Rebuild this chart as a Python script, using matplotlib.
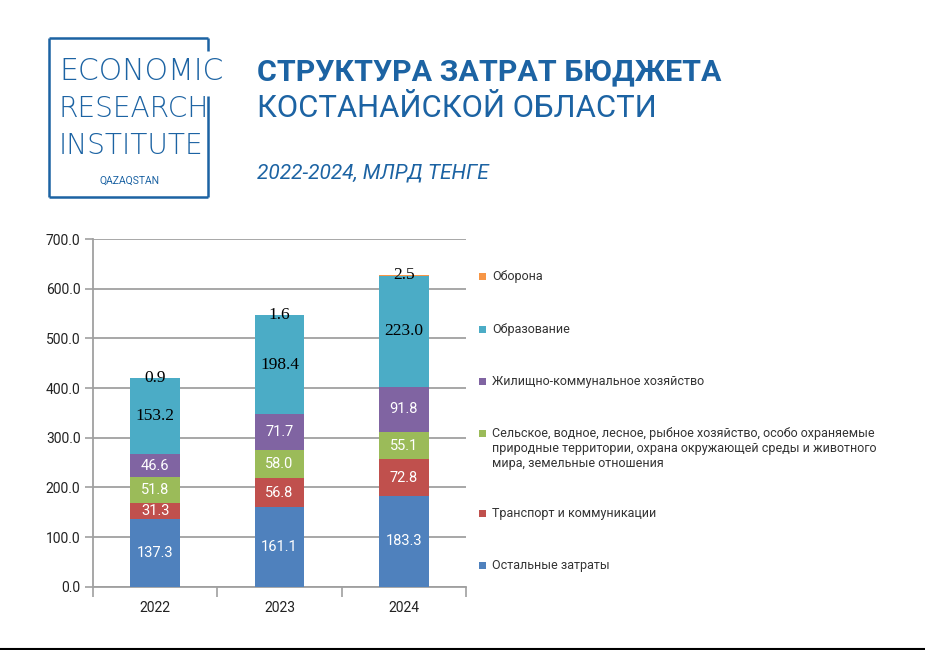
import matplotlib
matplotlib.use("Agg")
import matplotlib.pyplot as plt
from matplotlib.patches import Rectangle
from matplotlib.lines import Line2D

# ---- data ----
years = ["2022", "2023", "2024"]
other = [137.3, 161.1, 183.3]
transport = [31.3, 56.8, 72.8]
agri = [51.8, 58.0, 55.1]
housing = [46.6, 71.7, 91.8]
education = [153.2, 198.4, 223.0]
defense = [0.9, 1.6, 2.5]

series_names = [
    "Остальные затраты",
    "Транспорт и коммуникации",
    "Сельское, водное, лесное, рыбное хозяйство, особо охраняемые\nприродные территории, охрана окружающей среды и животного\nмира, земельные отношения",
    "Жилищно-коммунальное хозяйство",
    "Образование",
    "Оборона",
]
series_values = [other, transport, agri, housing, education, defense]
series_colors = ["#4F81BD", "#C0504D", "#9BBB59", "#8064A2", "#4BACC6", "#F79646"]
label_dark = [False, False, False, False, True, True]
yticks = [0, 100, 200, 300, 400, 500, 600, 700]

W, H = 925, 650
fig = plt.figure(figsize=(W / 100, H / 100), dpi=100)
fig.patch.set_facecolor("white")

def fx(px):
    return px / W

def fy(py):
    return 1 - py / H

# ---- axes ----
ax_l, ax_r, ax_t, ax_b = 93, 466, 239, 586.7
ax = fig.add_axes([fx(ax_l), fy(ax_b), (ax_r - ax_l) / W, (ax_b - ax_t) / H])
ax.set_facecolor("white")

x = list(range(len(years)))
bottoms = [0.0] * len(years)
for vals, col, dark in zip(series_values, series_colors, label_dark):
    ax.bar(x, vals, width=0.4, bottom=bottoms, color=col, zorder=3, linewidth=0)
    for i, v in enumerate(vals):
        yc = bottoms[i] + v / 2
        if dark:
            ax.text(i, yc, f"{v:.1f}", ha="center", va="center", fontsize=12.5,
                    family="Liberation Serif", color="black", zorder=5)
        else:
            ax.text(i, yc, f"{v:.1f}", ha="center", va="center", fontsize=10.5,
                    family="Roboto", color="white", zorder=5)
    bottoms = [b + v for b, v in zip(bottoms, vals)]

ax.set_xlim(-0.5, len(years) - 0.5)
ax.set_ylim(0, 700)
ax.set_yticks(yticks)
ax.set_yticklabels([f"{t:.1f}" for t in yticks], family="Roboto", fontsize=10, color="#222222")
ax.set_xticks(x)
ax.set_xticklabels(years, family="Roboto", fontsize=10, color="#222222")
ax.set_xticks([-0.5, 0.5, 1.5, 2.5], minor=True)
ax.tick_params(axis="x", which="major", length=0, pad=10)
ax.tick_params(axis="x", which="minor", length=7, width=1.2, color="#A0A0A0", direction="out")
ax.tick_params(axis="y", length=6, width=1.2, color="#A0A0A0", pad=3)
ax.yaxis.grid(True, color="#A0A0A0", linewidth=1.3, zorder=0)
ax.set_axisbelow(True)
for s in ["top", "right"]:
    ax.spines[s].set_visible(False)
for s in ["left", "bottom"]:
    ax.spines[s].set_color("#A0A0A0")
    ax.spines[s].set_linewidth(1.3)

# ---- legend (manual, reversed order) ----
leg_y = [276.7, 329, 381, 433.7, 513, 565.7]
for name, col, ly in zip(series_names[::-1], series_colors[::-1], leg_y):
    fig.add_artist(Rectangle((fx(479), fy(ly + 3.5)), 7 / W, 7 / H, transform=fig.transFigure,
                             facecolor=col, edgecolor="none"))
    if "\n" in name:
        fig.text(fx(492), fy(ly - 7), name, ha="left", va="top",
                 fontsize=9.0, family="Roboto", color="#333333", linespacing=1.2)
    else:
        fig.text(fx(492), fy(ly), name, ha="left", va="center",
                 fontsize=9.0, family="Roboto", color="#333333")

# ---- header ----
blue = "#1C63A3"
box_l, box_r, box_t, box_b = 49, 208, 38, 197
def seg(x0, y0, x1, y1):
    fig.add_artist(Line2D([fx(x0), fx(x1)], [fy(y0), fy(y1)], transform=fig.transFigure,
                          color=blue, linewidth=1.8, solid_capstyle="butt"))
seg(box_l, box_t, box_r, box_t)
seg(box_l, box_t, box_l, box_b)
seg(box_l, box_b, box_r, box_b)
seg(box_r, box_t, box_r, 51)
seg(box_r, 96, box_r, box_b)

logo_font = dict(family="DejaVu Sans", fontweight="light", color=blue,
                 va="baseline", ha="left")
fig.text(fx(59), fy(80), "ECONOMIC", fontsize=21.5, **logo_font)
fig.text(fx(59), fy(117), "RESEARCH", fontsize=20.2, **logo_font)
fig.text(fx(59), fy(154), "INSTITUTE", fontsize=20.2, **logo_font)
fig.text(fx(129), fy(184), "QAZAQSTAN", fontsize=7.5, family="Roboto",
         color=blue, va="baseline", ha="center")

fig.text(fx(257), fy(80), "СТРУКТУРА ЗАТРАТ БЮДЖЕТА", fontsize=21.9, family="Roboto",
         fontweight="bold", color=blue, va="baseline", ha="left")
fig.text(fx(257), fy(117), "КОСТАНАЙСКОЙ ОБЛАСТИ", fontsize=22.3, family="Roboto",
         color=blue, va="baseline", ha="left")
fig.text(fx(257), fy(178), "2022-2024, МЛРД ТЕНГЕ", fontsize=15.0, family="Roboto",
         style="italic", color=blue, va="baseline", ha="left")

# bottom rule
fig.add_artist(Line2D([0, 1], [fy(648.5), fy(648.5)], transform=fig.transFigure,
                      color="black", linewidth=1.5))

fig.savefig("out.png", dpi=100)
